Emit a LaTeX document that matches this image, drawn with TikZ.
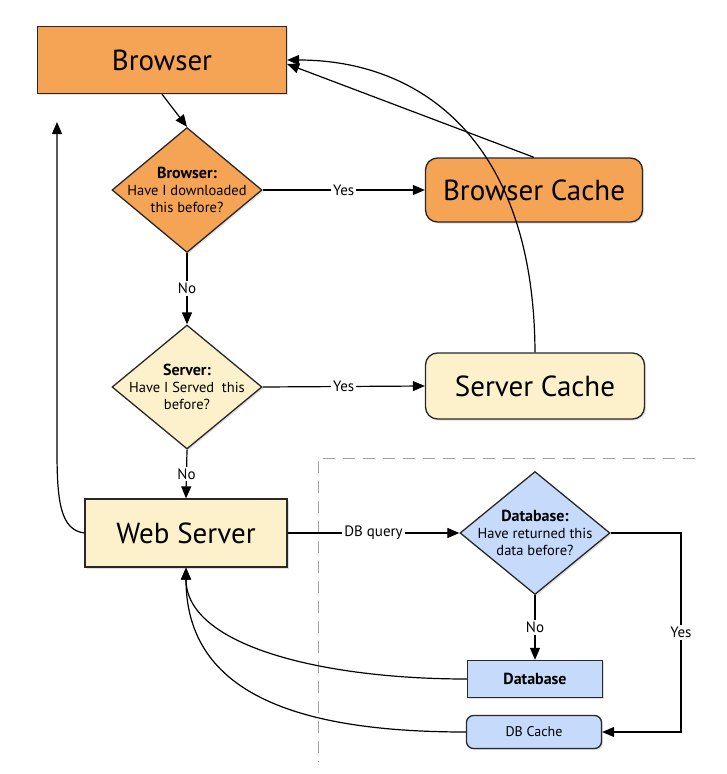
\documentclass[tikz,border=0pt]{standalone}
\usepackage{fontspec}
\setmainfont{PT Sans}
\usetikzlibrary{shapes.geometric,arrows.meta,shadows}
\definecolor{browserorange}{RGB}{245,163,84}
\definecolor{serveryellow}{RGB}{253,241,203}
\definecolor{dbblue}{RGB}{198,218,252}
\definecolor{linegray}{RGB}{40,40,40}
\definecolor{dashgray}{RGB}{160,160,160}
\newcommand{\qhead}[1]{{\fontsize{16}{17}\selectfont\bfseries #1}}

\begin{document}
\begin{tikzpicture}[x=1pt,y=-1pt,
    shape base/.style={draw=linegray,line width=1.3pt,
        drop shadow={shadow xshift=1.5pt,shadow yshift=-1.5pt,opacity=0.25}},
    bigbox/.style={shape base,rectangle,font=\fontsize{29}{34}\selectfont},
    cachebox/.style={bigbox,rounded corners=12pt},
    question/.style={shape base,diamond,inner sep=-16pt,align=center,
        font=\fontsize{14.5}{17}\selectfont},
    smallbox/.style={shape base,rectangle,font=\fontsize{14}{16}\selectfont},
    arr/.style={-{Triangle[length=12pt,width=10pt]},line width=1.2pt,black},
    lbl/.style={fill=white,inner sep=2pt,font=\fontsize{15}{17}\selectfont}]
    \useasboundingbox (0,0) rectangle (727,774);

    % dashed boundary of the database part
    \coordinate (dbcorner) at (318,458);
    \coordinate (dbtop) at (695,458);
    \coordinate (dbbottom) at (318,762);
    \draw [dashgray,line width=1pt,dash pattern=on 12pt off 8pt]
        (dbtop) -- (dbcorner) -- (dbbottom);

    \node [bigbox,fill=browserorange,minimum width=249pt,minimum height=67pt]
        (browser) at (162,60) {Browser};
    \node [question,fill=browserorange,minimum width=150pt,minimum height=125pt]
        (browserq) at (187,190) {\qhead{Browser:}\\Have I downloaded\\this before?};
    \node [cachebox,fill=browserorange,minimum width=217pt,minimum height=64pt]
        (browsercache) at (534,190) {Browser Cache};

    \node [question,fill=serveryellow,minimum width=150pt,minimum height=124pt]
        (serverq) at (187,387) {\qhead{Server:}\\Have I Served~~this\\before?};
    \node [cachebox,fill=serveryellow,minimum width=219pt,minimum height=66pt]
        (servercache) at (535,386) {Server Cache};
    \node [bigbox,fill=serveryellow,minimum width=202pt,minimum height=68pt]
        (webserver) at (186,533) {Web Server};

    \node [question,fill=dbblue,minimum width=150pt,minimum height=123pt]
        (dbq) at (535,533) {\qhead{Database:}\\Have returned this\\data before?};
    \node [smallbox,fill=dbblue,minimum width=135pt,minimum height=37pt]
        (database) at (535,679) {\qhead{Database}};
    \node [smallbox,fill=dbblue,rounded corners=7pt,minimum width=135pt,minimum height=33pt]
        (dbcache) at (534,732) {DB Cache};

    \coordinate (upend) at (57,122);
    \coordinate (yesturn) at (681,533);

    \draw [arr] (browser.south) -- (browserq.north);
    \draw [arr] (browserq.east)
        -- (browsercache.west) node [midway,lbl] {Yes};
    \draw [arr] (browserq.south)
        -- (serverq.north) node [midway,lbl] {No};
    \draw [arr] (serverq.east)
        -- (servercache.west) node [midway,lbl] {Yes};
    \draw [arr] (serverq.south)
        -- (webserver.north) node [midway,lbl] {No};
    \draw [arr] (webserver.east)
        -- (dbq.west) node [midway,lbl] {DB query};
    \draw [arr] (dbq.south)
        -- (database.north) node [midway,lbl] {No};
    \draw [arr] (dbq.east) -- (yesturn)
        |- (dbcache.east) node [pos=0.25,lbl] {Yes};

    \draw [arr] (browsercache.north) -- ([yshift=-4pt]browser.east);
    \draw [arr] (servercache.north)
        .. controls (534,140) and (420,60) .. (browser.east);
    \draw [arr] (webserver.west)
        .. controls (60,530) and (57,500) .. (57,450) -- (upend);
    \draw [arr] (database.west)
        .. controls (320,679) and (186,645) .. (webserver.south);
    \draw [arr] (dbcache.west)
        .. controls (300,732) and (186,695) .. (webserver.south);
\end{tikzpicture}
\end{document}
